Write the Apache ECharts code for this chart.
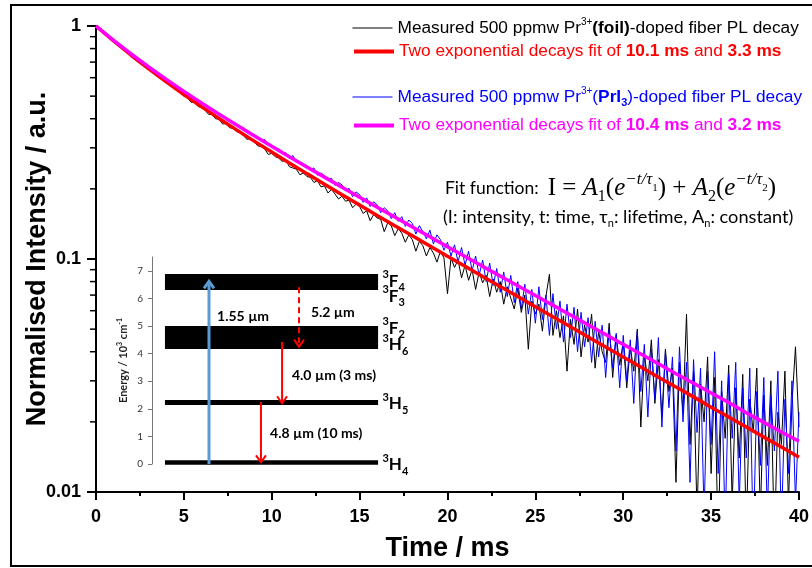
<!DOCTYPE html>
<html>
<head>
<meta charset="utf-8">
<script src="https://cdn.jsdelivr.net/npm/echarts/dist/echarts.min.js"></script>
<style>
  html, body { margin: 0; padding: 0; background: #fff; }
  #main { width: 812px; height: 568px; }
</style>
</head>
<body>
<div id="main"></div>
<script>
var chartDom = document.getElementById('main');
var myChart = echarts.init(chartDom);
var option;

// measured PL decays, sampled every 0.2 ms from 0 to 40 ms
const stepMs = 0.2;
const foilDecay = [
  1.000, 0.972, 0.941, 0.917, 0.886, 0.864, 0.836, 0.817, 0.789, 0.772,
  0.746, 0.731, 0.704, 0.694, 0.668, 0.651, 0.641, 0.614, 0.607, 0.583,
  0.577, 0.553, 0.549, 0.529, 0.522, 0.499, 0.494, 0.471, 0.470, 0.452,
  0.446, 0.436, 0.418, 0.417, 0.400, 0.398, 0.380, 0.381, 0.366, 0.364,
  0.352, 0.349, 0.337, 0.326, 0.329, 0.318, 0.306, 0.304, 0.297, 0.281,
  0.284, 0.275, 0.271, 0.262, 0.266, 0.249, 0.246, 0.243, 0.230, 0.234,
  0.226, 0.224, 0.213, 0.217, 0.204, 0.206, 0.192, 0.199, 0.190, 0.181,
  0.186, 0.177, 0.179, 0.166, 0.172, 0.168, 0.157, 0.161, 0.146, 0.155,
  0.150, 0.148, 0.131, 0.143, 0.139, 0.126, 0.135, 0.129, 0.118, 0.127,
  0.121, 0.108, 0.119, 0.114, 0.103, 0.112, 0.106, 0.097, 0.108, 0.101,
  0.071, 0.101, 0.092, 0.099, 0.083, 0.094, 0.081, 0.090, 0.074, 0.088,
  0.079, 0.085, 0.069, 0.082, 0.072, 0.080, 0.064, 0.076, 0.068, 0.061,
  0.075, 0.059, 0.070, 0.041, 0.066, 0.058, 0.064, 0.049, 0.069, 0.086,
  0.047, 0.060, 0.046, 0.057, 0.033, 0.055, 0.043, 0.061, 0.038, 0.052,
  0.044, 0.058, 0.034, 0.049, 0.040, 0.036, 0.053, 0.031, 0.047, 0.035,
  0.044, 0.028, 0.042, 0.033, 0.050, 0.019, 0.039, 0.030, 0.045, 0.024,
  0.037, 0.021, 0.041, 0.027, 0.034, 0.011, 0.036, 0.022, 0.058, 0.016,
  0.033, 0.008, 0.029, 0.020, 0.038, 0.012, 0.031, 0.006, 0.027, 0.017,
  0.035, 0.009, 0.028, 0.014, 0.032, 0.007, 0.025, 0.018, 0.034, 0.008,
  0.026, 0.013, 0.030, 0.006, 0.022, 0.016, 0.033, 0.009, 0.024, 0.042,
  0.019
];
const pri3Decay = [
  1.000, 0.973, 0.946, 0.917, 0.895, 0.866, 0.847, 0.820, 0.802, 0.777,
  0.760, 0.737, 0.723, 0.700, 0.687, 0.664, 0.655, 0.632, 0.624, 0.601,
  0.594, 0.573, 0.568, 0.546, 0.542, 0.520, 0.518, 0.497, 0.495, 0.474,
  0.470, 0.456, 0.452, 0.436, 0.432, 0.416, 0.414, 0.398, 0.395, 0.386,
  0.378, 0.366, 0.366, 0.350, 0.349, 0.337, 0.334, 0.321, 0.326, 0.307,
  0.309, 0.297, 0.298, 0.283, 0.286, 0.270, 0.278, 0.262, 0.259, 0.255,
  0.252, 0.241, 0.246, 0.229, 0.234, 0.228, 0.219, 0.222, 0.207, 0.213,
  0.208, 0.196, 0.201, 0.185, 0.194, 0.189, 0.175, 0.183, 0.168, 0.176,
  0.171, 0.158, 0.166, 0.161, 0.149, 0.158, 0.145, 0.152, 0.138, 0.147,
  0.142, 0.128, 0.139, 0.131, 0.122, 0.133, 0.116, 0.127, 0.121, 0.109,
  0.118, 0.103, 0.115, 0.097, 0.112, 0.094, 0.108, 0.089, 0.103, 0.085,
  0.099, 0.080, 0.096, 0.077, 0.091, 0.072, 0.088, 0.069, 0.085, 0.065,
  0.080, 0.061, 0.078, 0.058, 0.074, 0.053, 0.076, 0.055, 0.070, 0.047,
  0.071, 0.050, 0.066, 0.044, 0.064, 0.046, 0.062, 0.040, 0.059, 0.042,
  0.056, 0.036, 0.054, 0.038, 0.052, 0.031, 0.050, 0.034, 0.048, 0.028,
  0.047, 0.030, 0.045, 0.024, 0.049, 0.027, 0.043, 0.021, 0.041, 0.025,
  0.046, 0.019, 0.040, 0.023, 0.038, 0.015, 0.042, 0.020, 0.036, 0.011,
  0.037, 0.018, 0.034, 0.008, 0.033, 0.016, 0.040, 0.012, 0.030, 0.007,
  0.032, 0.017, 0.036, 0.009, 0.028, 0.014, 0.034, 0.006, 0.027, 0.013,
  0.031, 0.008, 0.026, 0.015, 0.033, 0.007, 0.025, 0.012, 0.030, 0.009,
  0.022
];

// two-exponential fit curves, read every 1 ms
const fitTime = [
  0, 1, 2, 3, 4, 5, 6, 7, 8, 9, 10, 11, 12, 13, 14, 15, 16, 17, 18, 19, 20,
  21, 22, 23, 24, 25, 26, 27, 28, 29, 30, 31, 32, 33, 34, 35, 36, 37, 38, 39, 40
];
const foilFit = [
  1.000, 0.8623, 0.7489, 0.6546, 0.5754, 0.5082, 0.4508, 0.4012, 0.3582, 0.3206,
  0.2876, 0.2584, 0.2325, 0.2094, 0.1888, 0.1704, 0.1538, 0.1390, 0.1257, 0.1136,
  0.1028, 0.0931, 0.0842, 0.0762, 0.0690, 0.0624, 0.0565, 0.0512, 0.0463, 0.0419,
  0.0380, 0.0344, 0.0311, 0.0282, 0.0256, 0.0231, 0.0210, 0.0190, 0.0172, 0.0156,
  0.0141
];
const pri3Fit = [
  1.000, 0.8677, 0.7584, 0.6672, 0.5900, 0.5243, 0.4677, 0.4186, 0.3757, 0.3379,
  0.3045, 0.2748, 0.2483, 0.2246, 0.2033, 0.1841, 0.1669, 0.1513, 0.1372, 0.1245,
  0.1129, 0.1025, 0.0930, 0.0845, 0.0768, 0.0697, 0.0633, 0.0575, 0.0522, 0.0474,
  0.0430, 0.0391, 0.0355, 0.0322, 0.0293, 0.0266, 0.0242, 0.0219, 0.0199, 0.0181,
  0.0165
];
const logMinorTicks = [0.02, 0.03, 0.04, 0.05, 0.06, 0.07, 0.08, 0.09,
  0.2, 0.3, 0.4, 0.5, 0.6, 0.7, 0.8, 0.9];

// inset: Pr3+ energy levels (10^3 cm^-1)
const levelLow = [6.30, 4.17, 2.14, -0.03];
const levelHigh = [6.88, 5.00, 2.32, 0.14];
const levelTerms = [['F', '4'], ['F', '3'], ['F', '2'], ['H', '6'], ['H', '5'], ['H', '4']];
const levelTermE = [6.62, 6.08, 4.92, 4.32, 2.18, -0.02];
// transitions: start and end energy
const transFrom = [0.00, 6.40, 4.42, 2.25];
const transTo = [6.62, 4.25, 2.20, 0.06];
const transText = ['1.55 µm', '5.2 µm', '4.0 µm (3 ms)', '4.8 µm (10 ms)'];
const transTextE = [5.33, 5.50, 3.19, 1.09];

// inset horizontal layout (arbitrary 0..10 units)
const barStart = 0.54, barEnd = 9.42;
const transX = [2.375, 6.125, 5.42, 4.54];
const transTextX = [2.71, 6.62, 5.83, 4.92];
const transColor = ['#5b9bd5', '#ff0000', '#ff0000', '#ff0000'];
const transWidth = [3, 2, 2, 2];
const transDashed = [false, true, false, false];
const termX = 9.6;

const fontSans = "'Liberation Sans', Arial, sans-serif";
const fontCal = "Lato, 'Open Sans', sans-serif";
const fontMath = "'Liberation Serif', 'DejaVu Serif', serif";

const nameFoil = 'foil';
const nameFoilFit = 'foilFit';
const namePri = 'pri3';
const namePriFit = 'pri3Fit';

const measuredTime = foilDecay.map((v, i) => +(i * stepMs).toFixed(1));
const pairs = (xs, ys) => ys.map((v, i) => [xs[i], v]);

function legendRich(color) {
  return {
    n: { color: color, fontSize: 17.3, fontFamily: fontSans, lineHeight: 22 },
    b: { color: color, fontSize: 17.3, fontFamily: fontSans, fontWeight: 'bold', lineHeight: 22 },
    sup: { color: color, fontSize: 10, fontFamily: fontSans, verticalAlign: 'top', lineHeight: 13 },
    sub: { color: color, fontSize: 11, fontFamily: fontSans, fontWeight: 'bold', verticalAlign: 'bottom', lineHeight: 10 }
  };
}
function legendRow(name, top, color, lineWidth, text) {
  return {
    selectedMode: false,
    left: 352,
    top: top,
    padding: 0,
    itemWidth: 40,
    itemHeight: 12,
    data: [name],
    itemStyle: { opacity: 0 },
    lineStyle: { width: lineWidth },
    formatter: function () { return text; },
    textStyle: { color: color, fontSize: 17.3, fontFamily: fontSans, rich: legendRich(color) }
  };
}

const insetText = { fill: '#000', font: 'bold 14px ' + fontCal };

option = {
  backgroundColor: '#fff',
  animation: false,
  legend: [
    legendRow(nameFoil, 17, '#000', 1,
      '{n|Measured 500 ppmw Pr}{sup|3+}{b|(foil)}{n|-doped fiber PL decay}'),
    legendRow(nameFoilFit, 43, '#ff0000', 4,
      '{n|Two exponential decays fit of }{b|10.1 ms}{n| and }{b|3.3 ms}'),
    legendRow(namePri, 86, '#0000ff', 1,
      '{n|Measured 500 ppmw Pr}{sup|3+}{n|(}{b|PrI}{sub|3}{n|)-doped fiber PL decay}'),
    legendRow(namePriFit, 117, '#ff00ff', 4,
      '{n|Two exponential decays fit of }{b|10.4 ms}{n| and }{b|3.2 ms}')
  ],
  grid: [
    { left: 96, right: 10, top: 26, bottom: 76 },
    { left: 152, top: 257, width: 240, height: 207 }
  ],
  xAxis: [
    {
      type: 'value',
      min: 0,
      max: 40,
      interval: 5,
      name: 'Time / ms',
      nameLocation: 'middle',
      nameGap: 43,
      nameMoveOverlap: false,
      nameTextStyle: { fontSize: 27, fontWeight: 'bold', color: '#000', fontFamily: fontSans },
      axisLine: { onZero: false, lineStyle: { color: '#000', width: 2 } },
      axisTick: { length: 8, lineStyle: { color: '#000', width: 2 } },
      minorTick: { show: true, splitNumber: 2, length: 4, lineStyle: { color: '#000', width: 2 } },
      axisLabel: { fontSize: 18, fontWeight: 'bold', color: '#000', fontFamily: fontSans, margin: 16 },
      splitLine: { show: false }
    },
    { gridIndex: 1, type: 'value', min: 0, max: 10, show: false }
  ],
  yAxis: [
    {
      type: 'log',
      logBase: 10,
      min: 0.01,
      max: 1,
      name: 'Normalised Intensity / a.u.',
      nameLocation: 'middle',
      nameGap: 45,
      nameMoveOverlap: false,
      nameTextStyle: { fontSize: 27, fontWeight: 'bold', color: '#000', fontFamily: fontSans },
      axisLine: { onZero: false, lineStyle: { color: '#000', width: 2 } },
      axisTick: { length: 9, lineStyle: { color: '#000', width: 2 } },
      axisLabel: { fontSize: 18, fontWeight: 'bold', color: '#000', fontFamily: fontSans, margin: 15 },
      splitLine: { show: false }
    },
    {
      gridIndex: 1,
      type: 'value',
      min: 0,
      max: 7.5,
      interval: 1,
      name: '{a|Energy / 10}{s|3}{a| cm}{s|-1}',
      nameLocation: 'middle',
      nameGap: 22,
      nameTextStyle: {
        rich: {
          a: { fontSize: 11, fontWeight: 'bold', color: '#222', fontFamily: fontCal, lineHeight: 14 },
          s: { fontSize: 7, fontWeight: 'bold', color: '#222', fontFamily: fontCal, verticalAlign: 'top', lineHeight: 9 }
        }
      },
      axisLine: { onZero: false, lineStyle: { color: '#777', width: 1 } },
      axisTick: { length: 4, lineStyle: { color: '#777' } },
      axisLabel: { fontSize: 10, color: '#333', fontFamily: fontCal, margin: 9, showMaxLabel: false },
      splitLine: { show: false }
    }
  ],
  graphic: [
    {
      type: 'rect',
      shape: { x: 11, y: 5, width: 830, height: 561 },
      style: { fill: 'none', stroke: '#000', lineWidth: 2 },
      silent: true
    },
    {
      type: 'text',
      x: 445,
      y: 188,
      style: {
        text: '{n|Fit function:  }{m|I = }{i|A}{sb|1}{m|(}{i|e}{sp|−t/τ}{ssb|1}{m|) + }{i|A}{sb|2}{m|(}{i|e}{sp|−t/τ}{ssb|2}{m|)}',
        verticalAlign: 'middle',
        rich: {
          n: { fontFamily: fontCal, fontSize: 17.5, fill: '#000', lineHeight: 34 },
          m: { fontFamily: fontMath, fontSize: 25, fill: '#000', lineHeight: 34 },
          i: { fontFamily: fontMath, fontSize: 25, fontStyle: 'italic', fill: '#000', lineHeight: 34 },
          sb: { fontFamily: fontMath, fontSize: 16, fill: '#000', verticalAlign: 'bottom', lineHeight: 18 },
          sp: { fontFamily: fontMath, fontSize: 17, fontStyle: 'italic', fill: '#000', verticalAlign: 'top', lineHeight: 20 },
          ssb: { fontFamily: fontMath, fontSize: 11, fill: '#000', verticalAlign: 'middle', lineHeight: 14 }
        }
      }
    },
    {
      type: 'text',
      x: 443,
      y: 217,
      style: {
        text: '{n|(I: intensity, t: time, τ}{s|n}{n|: lifetime, A}{s|n}{n|: constant)}',
        verticalAlign: 'middle',
        rich: {
          n: { fontFamily: fontCal, fontSize: 18.2, fill: '#000', lineHeight: 24 },
          s: { fontFamily: fontCal, fontSize: 11, fill: '#000', verticalAlign: 'bottom', lineHeight: 12 }
        }
      }
    }
  ],
  series: [
    {
      name: nameFoil,
      type: 'line',
      data: pairs(measuredTime, foilDecay),
      showSymbol: false,
      symbol: 'none',
      lineStyle: { color: '#000', width: 1 },
      itemStyle: { color: '#000' },
      z: 2
    },
    {
      name: namePri,
      type: 'line',
      data: pairs(measuredTime, pri3Decay),
      showSymbol: false,
      symbol: 'none',
      lineStyle: { color: '#0000ff', width: 1 },
      itemStyle: { color: '#0000ff' },
      z: 3
    },
    {
      name: nameFoilFit,
      type: 'line',
      data: pairs(fitTime, foilFit),
      showSymbol: false,
      symbol: 'none',
      lineStyle: { color: '#ff0000', width: 3.5 },
      itemStyle: { color: '#ff0000' },
      z: 4
    },
    {
      name: namePriFit,
      type: 'line',
      data: pairs(fitTime, pri3Fit),
      showSymbol: false,
      symbol: 'none',
      lineStyle: { color: '#ff00ff', width: 3.5 },
      itemStyle: { color: '#ff00ff' },
      z: 5
    },
    {
      // minor ticks of the log axis at 2..9 of each decade
      type: 'custom',
      silent: true,
      clip: false,
      data: logMinorTicks.map(v => [0, v]),
      renderItem: function (params, api) {
        const c = api.coord([0, api.value(1)]);
        return {
          type: 'line',
          shape: { x1: c[0] - 6, y1: c[1], x2: c[0], y2: c[1] },
          style: { stroke: '#000', lineWidth: 1.5 }
        };
      },
      z: 6
    },
    {
      // energy level bars
      type: 'custom',
      xAxisIndex: 1,
      yAxisIndex: 1,
      silent: true,
      clip: false,
      data: levelLow.map((v, i) => [v, levelHigh[i]]),
      renderItem: function (params, api) {
        const p0 = api.coord([barStart, api.value(1)]);
        const p1 = api.coord([barEnd, api.value(0)]);
        return {
          type: 'rect',
          shape: { x: p0[0], y: p0[1], width: p1[0] - p0[0], height: p1[1] - p0[1] },
          style: { fill: '#000' }
        };
      }
    },
    {
      // transition arrows
      type: 'custom',
      xAxisIndex: 1,
      yAxisIndex: 1,
      silent: true,
      clip: false,
      data: transFrom.map((v, i) => [transX[i], v, transTo[i]]),
      renderItem: function (params, api) {
        const i = params.dataIndex;
        const a = api.coord([api.value(0), api.value(1)]);
        const b = api.coord([api.value(0), api.value(2)]);
        const dir = b[1] > a[1] ? 1 : -1;
        const col = transColor[i];
        const w = transWidth[i];
        return {
          type: 'group',
          children: [
            {
              type: 'line',
              shape: { x1: a[0], y1: a[1], x2: b[0], y2: b[1] - dir },
              style: { stroke: col, lineWidth: w, lineDash: transDashed[i] ? [6, 4] : null }
            },
            {
              type: 'polyline',
              shape: { points: [[b[0] - 5, b[1] - dir * 7], [b[0], b[1]], [b[0] + 5, b[1] - dir * 7]] },
              style: { stroke: col, lineWidth: w, fill: null }
            }
          ]
        };
      }
    },
    {
      // transition labels
      type: 'custom',
      xAxisIndex: 1,
      yAxisIndex: 1,
      silent: true,
      clip: false,
      data: transText.map((t, i) => [transTextX[i], transTextE[i]]),
      renderItem: function (params, api) {
        const p = api.coord([api.value(0), api.value(1)]);
        return {
          type: 'text',
          x: p[0],
          y: p[1],
          style: Object.assign({ text: transText[params.dataIndex], align: 'left', verticalAlign: 'middle' }, insetText)
        };
      }
    },
    {
      // term symbols of the levels
      type: 'custom',
      xAxisIndex: 1,
      yAxisIndex: 1,
      silent: true,
      clip: false,
      data: levelTermE.map(e => [termX, e]),
      renderItem: function (params, api) {
        const p = api.coord([api.value(0), api.value(1)]);
        const t = levelTerms[params.dataIndex];
        return {
          type: 'text',
          x: p[0],
          y: p[1],
          style: {
            text: '{s|3}{m|' + t[0] + '}{b|' + t[1] + '}',
            align: 'left',
            verticalAlign: 'middle',
            rich: {
              m: { fontFamily: fontCal, fontSize: 17, fontWeight: 'bold', fill: '#000', lineHeight: 24 },
              s: { fontFamily: fontCal, fontSize: 11, fontWeight: 'bold', fill: '#000', verticalAlign: 'top', lineHeight: 14 },
              b: { fontFamily: fontCal, fontSize: 11, fontWeight: 'bold', fill: '#000', verticalAlign: 'bottom', lineHeight: 10 }
            }
          }
        };
      }
    }
  ]
};

option && myChart.setOption(option);
</script>
</body>
</html>
